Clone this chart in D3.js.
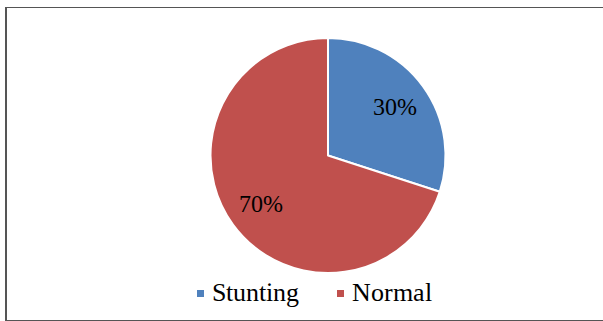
<!DOCTYPE html>
<html>
<head>
<meta charset="utf-8">
<script src="https://cdn.jsdelivr.net/npm/d3@7"></script>
<style>
  @font-face { font-family: "ChartSerif"; src: local("Liberation Serif"), local("LiberationSerif"), local("Tinos"), local("Times New Roman"); }
  body { margin: 0; background: #fff; }
  .lbl { font-family: "ChartSerif", "Liberation Serif", Tinos, serif; fill: #000; }
</style>
</head>
<body>
<svg id="chart" width="603" height="321"></svg>
<script>
// data
var categories = ["Stunting", "Normal"];
var values = [30, 70];
var labels = ["30%", "70%"];
var colors = ["#4F81BD", "#C0504D"];

var svg = d3.select("#chart");

// outer frame (right side runs off the picture)
svg.append("path")
    .attr("d", "M620,7.5 H6 V320.5 H620")
    .attr("fill", "none")
    .attr("stroke", "#555")
    .attr("stroke-width", 1);
svg.append("line")
    .attr("x1", 6).attr("x2", 6)
    .attr("y1", 7).attr("y2", 321)
    .attr("stroke", "#555")
    .attr("stroke-width", 2);

var cx = 328, cy = 155.5, radius = 117.5;

var pie = d3.pie().sort(null).value(function(d) { return d; });
var arc = d3.arc().innerRadius(0).outerRadius(radius);
var labelArc = d3.arc().innerRadius(radius * 0.7).outerRadius(radius * 0.7);

var g = svg.append("g").attr("transform", "translate(" + cx + "," + cy + ")");

g.selectAll(".slice")
    .data(pie(values))
    .enter().append("path")
      .attr("class", "slice")
      .attr("d", arc)
      .attr("fill", function(d, i) { return colors[i]; })
      .attr("stroke", "#fff")
      .attr("stroke-width", 2)
      .attr("stroke-linejoin", "round");

svg.selectAll(".pct")
    .data(pie(values))
    .enter().append("text")
      .attr("class", "pct lbl")
      .attr("x", function(d) { return cx + labelArc.centroid(d)[0]; })
      .attr("y", function(d) { return cy + labelArc.centroid(d)[1] + 8; })
      .attr("text-anchor", "middle")
      .style("font-size", "24px")
      .text(function(d, i) { return labels[i]; });

// legend
var legendX = [197, 337];
svg.selectAll(".key")
    .data(categories)
    .enter().append("rect")
      .attr("class", "key")
      .attr("x", function(d, i) { return legendX[i]; })
      .attr("y", 290)
      .attr("width", 7).attr("height", 7)
      .attr("fill", function(d, i) { return colors[i]; });

svg.selectAll(".keytext")
    .data(categories)
    .enter().append("text")
      .attr("class", "keytext lbl")
      .attr("x", function(d, i) { return legendX[i] + 15; })
      .attr("y", 301)
      .style("font-size", "26px")
      .text(function(d) { return d; });
</script>
</body>
</html>
